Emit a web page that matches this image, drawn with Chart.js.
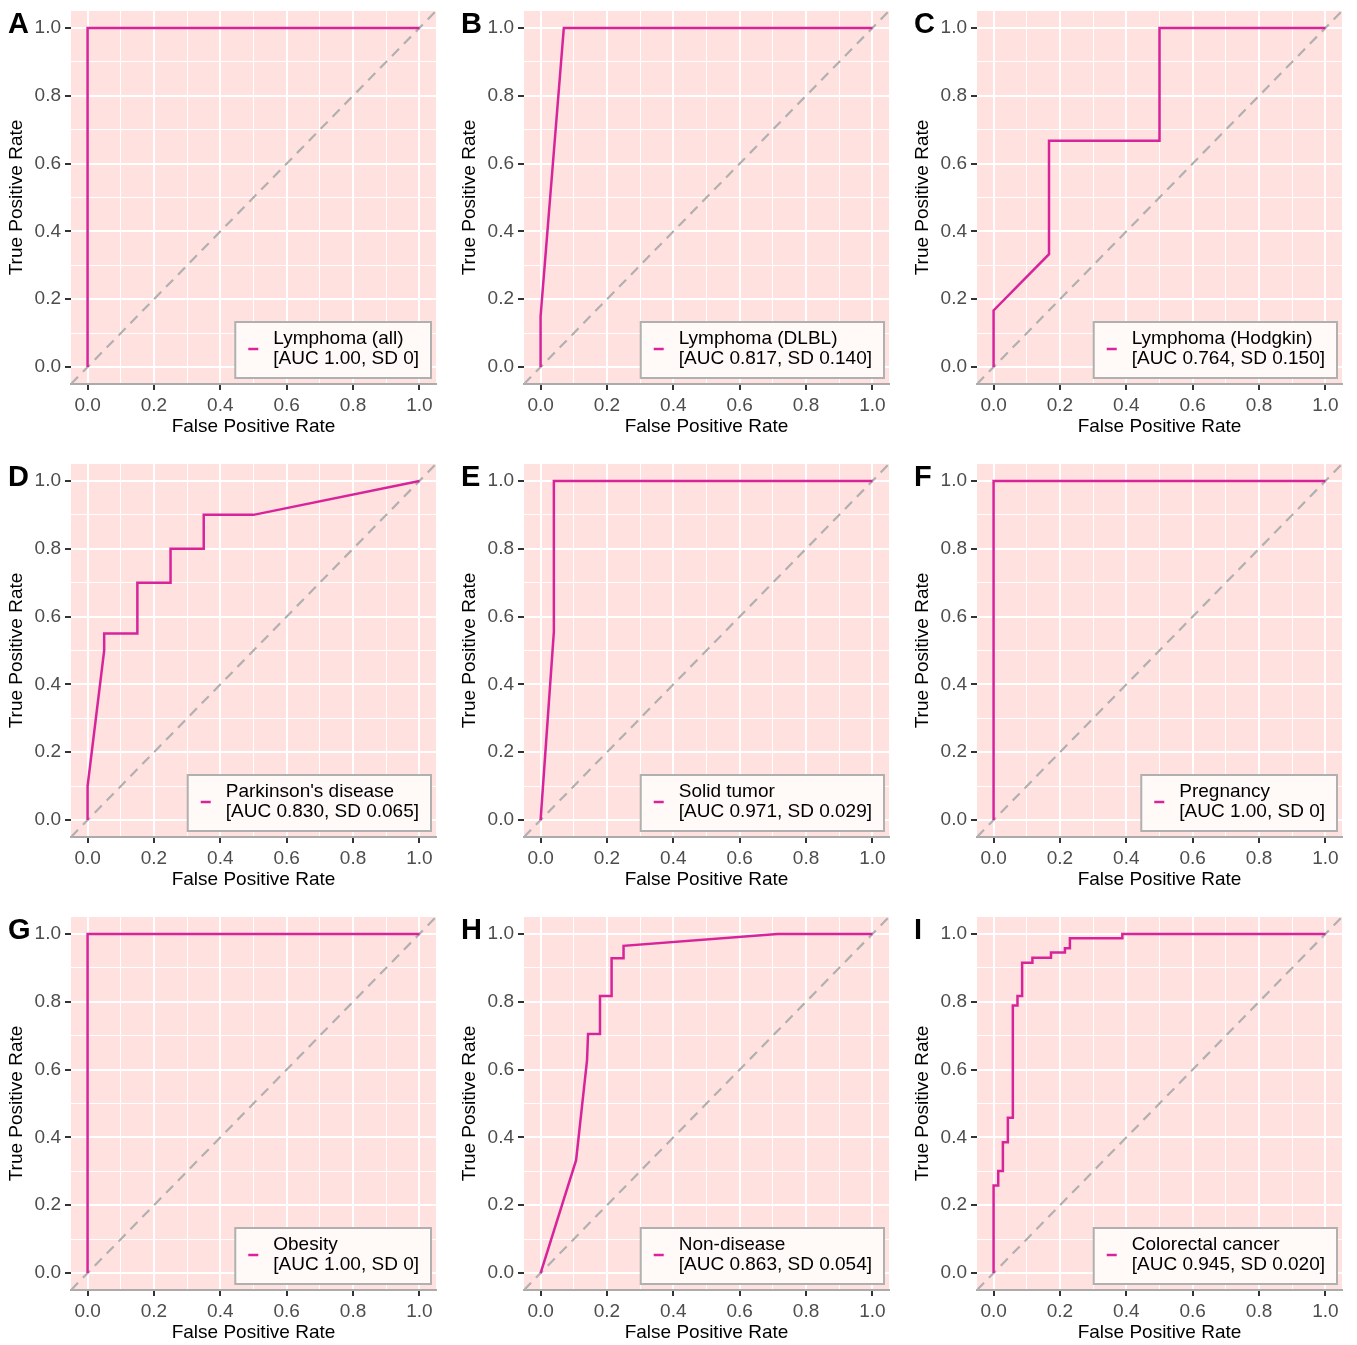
<!DOCTYPE html>
<html>
<head>
<meta charset="utf-8">
<script src="https://cdn.jsdelivr.net/npm/chart.js@4.4.1/dist/chart.umd.min.js"></script>
<style>
  body { margin: 0; background: #fff; overflow: hidden; }
  #grid { position: relative; width: 1357px; height: 1345px; }
  #grid canvas { position: absolute; }
</style>
</head>
<body>
<div id="grid"></div>
<script>
const panelLetters = ['A', 'B', 'C', 'D', 'E', 'F', 'G', 'H', 'I'];
const groupNames = ['Lymphoma (all)', 'Lymphoma (DLBL)', 'Lymphoma (Hodgkin)', "Parkinson's disease",
    'Solid tumor', 'Pregnancy', 'Obesity', 'Non-disease', 'Colorectal cancer'];
const aucValues = ['1.00', '0.817', '0.764', '0.830', '0.971', '1.00', '1.00', '0.863', '0.945'];
const sdValues = ['0', '0.140', '0.150', '0.065', '0.029', '0', '0', '0.054', '0.020'];

// ROC curves: false positive rate / true positive rate
const fprA = [0, 0, 1];
const tprA = [0, 1, 1];
const fprB = [0, 0, 0.07, 1];
const tprB = [0, 0.15, 1, 1];
const fprC = [0, 0, 0.167, 0.167, 0.5, 0.5, 1];
const tprC = [0, 0.167, 0.333, 0.667, 0.667, 1, 1];
const fprD = [0, 0, 0.05, 0.05, 0.15, 0.15, 0.25, 0.25, 0.35, 0.35, 0.5, 1];
const tprD = [0, 0.1, 0.5, 0.55, 0.55, 0.7, 0.7, 0.8, 0.8, 0.9, 0.9, 1];
const fprE = [0, 0.04, 0.04, 1];
const tprE = [0, 0.555, 1, 1];
const fprF = [0, 0, 1];
const tprF = [0, 1, 1];
const fprG = [0, 0, 1];
const tprG = [0, 1, 1];
const fprH = [0, 0.107, 0.14, 0.143, 0.179, 0.179, 0.214, 0.214, 0.25, 0.25, 0.714, 1];
const tprH = [0, 0.333, 0.628, 0.705, 0.705, 0.817, 0.817, 0.928, 0.928, 0.965, 1, 1];
const fprI = [0, 0, 0.014, 0.014, 0.028, 0.028, 0.043, 0.043, 0.058, 0.058, 0.072, 0.072, 0.086, 0.086,
    0.117, 0.117, 0.173, 0.173, 0.215, 0.215, 0.23, 0.23, 0.388, 0.388, 1];
const tprI = [0, 0.258, 0.258, 0.301, 0.301, 0.386, 0.386, 0.458, 0.458, 0.789, 0.789, 0.817, 0.817, 0.915,
    0.915, 0.93, 0.93, 0.945, 0.945, 0.958, 0.958, 0.987, 0.987, 1, 1];

const fprAll = [fprA, fprB, fprC, fprD, fprE, fprF, fprG, fprH, fprI];
const tprAll = [tprA, tprB, tprC, tprD, tprE, tprF, tprG, tprH, tprI];

const tickValues = [0, 0.1, 0.2, 0.3, 0.4, 0.5, 0.6, 0.7, 0.8, 0.9, 1];
const majorTicks = [0, 0.2, 0.4, 0.6, 0.8, 1];
const axisRange = [-0.05, 1.05];
const chanceLine = [-0.05, 1.05];

const ROC_COLOR = '#D8249A';
const PANEL_BG = '#FFE1DF';
const FONT = '"Liberation Sans", Arial, sans-serif';
const CELL = 453;

Chart.defaults.font.family = FONT;

function makeAxis(title, isX) {
    return {
        type: 'linear',
        min: axisRange[0],
        max: axisRange[1],
        afterBuildTicks: s => { s.ticks = tickValues.map(v => ({ value: v })); },
        afterFit: s => {
            // fixed plot box: no extra padding for edge labels
            s.paddingTop = 0; s.paddingBottom = 0; s.paddingLeft = 0; s.paddingRight = 0;
            if (isX) s.height = 69; else s.width = 71;
        },
        grid: {
            color: '#FFFFFF',
            lineWidth: c => majorTicks.includes(c.tick.value) ? 2 : 1,
            tickLength: 6,
            tickWidth: 2,
            tickColor: c => majorTicks.includes(c.tick.value) ? '#333333' : 'rgba(0,0,0,0)'
        },
        border: isX ? { display: true, color: '#ABABAB', width: 2 } : { display: false },
        ticks: {
            autoSkip: false,
            maxRotation: 0,
            padding: 4,
            color: '#4D4D4D',
            font: { size: 19 },
            callback: v => majorTicks.includes(v) ? v.toFixed(1) : ''
        },
        title: {
            display: true,
            text: title,
            color: '#000000',
            font: { size: 19 },
            padding: isX ? { top: 0, bottom: 15 } : { top: 5, bottom: 0 }
        }
    };
}

// pink panel, legend box and panel letter
function decor(i) {
    return {
        id: 'decor' + i,
        beforeDraw(chart) {
            const { ctx, chartArea: a } = chart;
            ctx.save();
            ctx.fillStyle = PANEL_BG;
            ctx.fillRect(a.left, a.top, a.right - a.left, a.bottom - a.top);
            ctx.restore();
        },
        afterDraw(chart) {
            const { ctx, chartArea: a } = chart;
            ctx.save();
            const line1 = groupNames[i];
            const line2 = '[AUC ' + aucValues[i] + ', SD ' + sdValues[i] + ']';
            ctx.font = '19px ' + FONT;
            const tw = Math.max(ctx.measureText(line1).width, ctx.measureText(line2).width);
            const w = tw + 50, h = 56;
            const x = a.right - 5 - w, y = a.bottom - 6 - h;
            ctx.fillStyle = '#FFF9F8';
            ctx.fillRect(x, y, w, h);
            ctx.strokeStyle = '#B0B0B0';
            ctx.lineWidth = 2;
            ctx.strokeRect(x, y, w, h);
            ctx.strokeStyle = ROC_COLOR;
            ctx.lineWidth = 2.5;
            ctx.beginPath();
            ctx.moveTo(x + 13, y + 27);
            ctx.lineTo(x + 23, y + 27);
            ctx.stroke();
            ctx.fillStyle = '#000000';
            ctx.textBaseline = 'middle';
            ctx.fillText(line1, x + 38, y + 17);
            ctx.fillText(line2, x + 38, y + 37);
            ctx.font = 'bold 29px ' + FONT;
            ctx.textBaseline = 'alphabetic';
            ctx.fillText(panelLetters[i], 8, 33);
            ctx.restore();
        }
    };
}

const grid = document.getElementById('grid');
panelLetters.forEach((letter, i) => {
    const canvas = document.createElement('canvas');
    canvas.width = CELL;
    canvas.height = CELL;
    canvas.style.left = (i % 3) * CELL + 'px';
    canvas.style.top = Math.floor(i / 3) * CELL + 'px';
    grid.appendChild(canvas);

    new Chart(canvas, {
        type: 'scatter',
        data: {
            datasets: [{
                data: fprAll[i].map((x, k) => ({ x: x, y: tprAll[i][k] })),
                showLine: true,
                borderColor: ROC_COLOR,
                borderWidth: 2.5,
                pointRadius: 0,
                tension: 0
            }, {
                data: chanceLine.map(v => ({ x: v, y: v })),
                showLine: true,
                borderColor: '#B0B0B0',
                borderWidth: 2.2,
                borderDash: [10, 7],
                pointRadius: 0
            }]
        },
        options: {
            responsive: false,
            animation: false,
            events: [],
            layout: { padding: { top: 11, right: 17, left: 0, bottom: 0 } },
            plugins: { legend: { display: false }, tooltip: { enabled: false } },
            scales: {
                x: makeAxis('False Positive Rate', true),
                y: makeAxis('True Positive Rate', false)
            }
        },
        plugins: [decor(i)]
    });
});
</script>
</body>
</html>
